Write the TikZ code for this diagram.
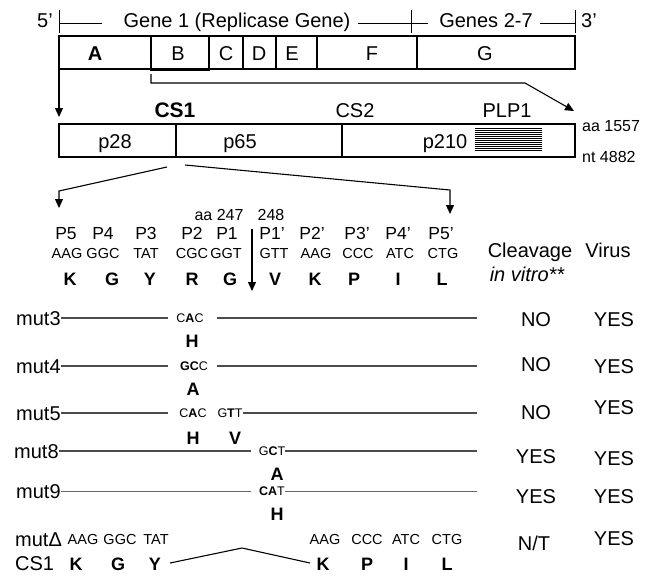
\documentclass[tikz,border=0pt]{standalone}
\usepackage{fontspec}
\setmainfont{Liberation Sans}
\usetikzlibrary{arrows.meta}
\begin{document}
\begin{tikzpicture}[x=1pt,y=-1pt,
  lbl/.style={inner sep=0pt, font=\fontsize{20}{24}\selectfont, text height=14.3pt, text depth=0pt},
  sml/.style={inner sep=0pt, font=\fontsize{16}{19}\selectfont, text height=11.5pt, text depth=0pt},
  plab/.style={inner sep=0pt, font=\fontsize{17.5}{20}\selectfont, text height=12.5pt, text depth=0pt},
  cod/.style={inner sep=0pt, font=\fontsize{14.5}{16}\selectfont, text height=10.4pt, text depth=0pt},
  mcod/.style={inner sep=0pt, font=\fontsize{12.5}{15}\selectfont, text height=9pt, text depth=0pt},
  aa/.style={inner sep=0pt, font=\bfseries\fontsize{18}{20}\selectfont, text height=12.9pt, text depth=0pt},
  boxline/.style={line width=1.4pt},
  arr/.style={-{Triangle[length=9pt,width=8pt]}, line width=1.1pt},
  mline/.style={draw=black!70, line width=1.2pt}]
\useasboundingbox (0,0) rectangle (650,582);

% ---------- top genome line ----------
\node[lbl] (five) at (45,20) {5’};
\node[lbl] (g1) at (237,20) {Gene 1 (Replicase Gene)};
\node[lbl] (g27) at (486,20) {Genes 2-7};
\node[lbl] (three) at (589,20) {3’};
\coordinate (t1a) at (59,10);  \coordinate (t1b) at (59,33);
\coordinate (t2a) at (411,10); \coordinate (t2b) at (411,33);
\coordinate (t3a) at (575,10); \coordinate (t3b) at (575,33);
\draw[line width=1pt] (t1a) -- (t1b) (t2a) -- (t2b) (t3a) -- (t3b);
\draw[line width=1pt] (59,23) -- (102,23) (358,23) -- (428,23) (540,23) -- (575,23);

% ---------- top box (ORF) ----------
\draw[boxline] (59,36) rectangle (575,69);
\draw[boxline] (151,36) -- (151,70) -- (209,70) -- (209,36);
\foreach \xx in {243,276,317,417} \draw[boxline] (\xx,36) -- (\xx,69);
\node[lbl, font=\bfseries\fontsize{20}{24}\selectfont] (A) at (95,53) {A};
\node[lbl] (B) at (178,53) {B};
\node[lbl] (C) at (226,53) {C};
\node[lbl] (D) at (259,53) {D};
\node[lbl] (E) at (292,53) {E};
\node[lbl] (F) at (372,53) {F};
\node[lbl] (G) at (485,53) {G};

% ---------- arrows to polyprotein ----------
\coordinate (Abot) at (59,69);
\coordinate (Aend) at (59,117);
\draw[arr] (Abot) -- (Aend);
\coordinate (Bb) at (151,74);
\coordinate (Bc) at (151,83);
\coordinate (Bd) at (525,83);
\coordinate (Be) at (574,111);
\draw[arr] (Bb) -- (Bc) -- (Bd) -- (Be);

% ---------- polyprotein box ----------
\node[lbl, font=\bfseries\fontsize{21}{24}\selectfont, text height=15pt] (cs1) at (175,110) {CS1};
\node[lbl] (cs2) at (355,110) {CS2};
\node[lbl] (plp) at (507,110) {PLP1};
\draw[boxline] (59,124) rectangle (575,157);
\draw[boxline] (176,124) -- (176,157);
\draw[boxline] (342,124) -- (342,157);
\node[lbl] (p28) at (115,141) {p28};
\node[lbl] (p65) at (240,141) {p65};
\node[lbl] (p210) at (445,141) {p210};
\foreach \yy in {128.5,130.5,...,152} \draw[line width=0.9pt] (475,\yy) -- (542,\yy);
\node[sml, anchor=west] (aa1557) at (582,126) {aa 1557};
\node[sml, anchor=west] (nt4882) at (582,157) {nt 4882};

% ---------- zoom arrows ----------
\coordinate (zl0) at (167,167); \coordinate (zl1) at (59,191); \coordinate (zl2) at (59,208);
\draw[arr] (zl0) -- (zl1) -- (zl2);
\coordinate (zr0) at (185,165); \coordinate (zr1) at (450,190); \coordinate (zr2) at (450,214);
\draw[arr] (zr0) -- (zr1) -- (zr2);

% ---------- cleavage site sequence ----------
\node[sml] (aa247) at (219,215) {aa 247};
\node[sml] (n248) at (271,215) {248};
\foreach \lab/\xx in {P5/66,P4/103,P3/146,P2/192,P1/227,P1’/272,P2’/312,P3’/357,P4’/398,P5’/441}
  \node[plab] (P-\lab) at (\xx,233) {\lab};
\foreach \c/\xx/\n in {AAG/67/1,GGC/103/2,TAT/146/3,CGC/192/4,GGT/226/5,GTT/274/6,AAG/316/7,CCC/358/8,ATC/400/9,CTG/443/10}
  \node[cod] (c\n) at (\xx,253) {\c};
\foreach \a/\xx/\n in {K/70/1,G/112/2,Y/150/3,R/192/4,G/230/5,V/275/6,K/315/7,P/354/8,I/398/9,L/442/10}
  \node[aa] (a\n) at (\xx,279) {\a};
\coordinate (cut0) at (252,229); \coordinate (cut1) at (252,291);
\draw[arr] (cut0) -- (cut1);

% ---------- column headers ----------
\node[lbl] (clv) at (530,250) {Cleavage};
\node[lbl] (invit) at (527,274) {\itshape in vitro**};
\node[lbl] (vir) at (608,250) {Virus};

% ---------- mutants ----------
\node[lbl, anchor=west] (m3) at (16,318) {mut3};
\node[mcod] (m3c) at (190,318) {C\textbf{A}C};
\node[aa] (m3a) at (192,341) {H};
\draw[mline] (m3.east) -- (168,318) (217,318) -- (477,318);
\node[lbl] (m3cl) at (536,319) {NO};
\node[lbl] (m3v) at (614,319) {YES};

\node[lbl, anchor=west] (m4) at (16,366) {mut4};
\node[mcod] (m4c) at (194,366) {\textbf{GC}C};
\node[aa] (m4a) at (193,389) {A};
\draw[mline] (m4.east) -- (168,366) (217,366) -- (477,366);
\node[lbl] (m4cl) at (536,364) {NO};
\node[lbl] (m4v) at (614,366) {YES};

\node[lbl, anchor=west] (m5) at (16,413) {mut5};
\node[mcod] (m5c) at (193,413) {C\textbf{A}C};
\node[mcod] (m5d) at (230,413) {G\textbf{T}T};
\node[aa] (m5a) at (193,438) {H};
\node[aa] (m5b) at (235,438) {V};
\draw[mline] (m5.east) -- (168,413) (m5d.east) -- (477,413);
\node[lbl] (m5cl) at (536,412) {NO};
\node[lbl] (m5v) at (614,407) {YES};

\node[lbl, anchor=west] (m8) at (14,451) {mut8};
\node[mcod] (m8c) at (272,451) {G\textbf{C}T};
\node[aa] (m8a) at (277,474) {A};
\draw[mline] (m8.east) -- (251,451) (m8c.east) -- (477,451);
\node[lbl] (m8cl) at (536,456) {YES};
\node[lbl] (m8v) at (614,458) {YES};

\node[lbl, anchor=west] (m9) at (16,491) {mut9};
\node[mcod] (m9c) at (272,491) {\textbf{CA}T};
\node[aa] (m9a) at (277,514) {H};
\draw[mline, draw=black!60, line width=1pt] (m9.east) -- (251,491) (m9c.east) -- (477,491);
\node[lbl] (m9cl) at (536,496) {YES};
\node[lbl] (m9v) at (614,496) {YES};

\node[lbl, anchor=west] (md) at (15,539) {mutΔ};
\node[lbl, anchor=west] (mdcs) at (15,563) {CS1};
\foreach \c/\xx/\n in {AAG/83/1,GGC/120/2,TAT/156/3,AAG/325/4,CCC/367/5,ATC/406/6,CTG/447/7}
  \node[cod] (d\n) at (\xx,539) {\c};
\foreach \a/\xx/\n in {K/76/1,G/118/2,Y/155/3,K/323/4,P/367/5,I/406/6,L/447/7}
  \node[aa] (da\n) at (\xx,564) {\a};
\coordinate (vpk) at (242,548);
\draw[line width=1.1pt] (170,563) -- (vpk) -- (310,563);
\node[lbl] (mdcl) at (534,543) {N/T};
\node[lbl] (mdv) at (614,538) {YES};
\end{tikzpicture}
\end{document}
